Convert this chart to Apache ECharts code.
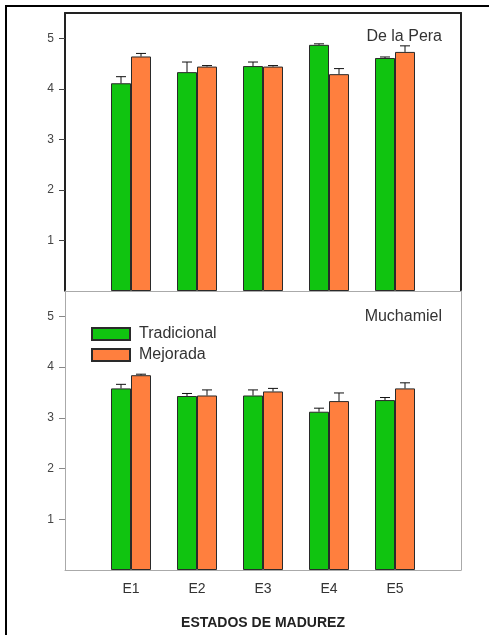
<!DOCTYPE html>
<html>
<head>
<meta charset="utf-8">
<script src="https://cdn.jsdelivr.net/npm/echarts@6/dist/echarts.min.js"></script>
<style>
  html, body { margin: 0; padding: 0; background: #fff; }
  #chart { width: 489px; height: 635px; }
  .frame { position: absolute; left: 5px; top: 5px; right: -10px; bottom: -10px;
    border-left: 2px solid #000; border-top: 2px solid #000; pointer-events: none; }
</style>
</head>
<body>
<div id="chart"></div>
<div class="frame"></div>
<script>
const categories = ['E1', 'E2', 'E3', 'E4', 'E5']
const yTicks = [1, 2, 3, 4, 5]

// De la Pera
const peraTradicional = [4.11, 4.33, 4.45, 4.87, 4.61]
const peraTradicionalErr = [0.13, 0.2, 0.08, 0.02, 0.02]
const peraMejorada = [4.64, 4.44, 4.44, 4.29, 4.73]
const peraMejoradaErr = [0.06, 0.02, 0.02, 0.11, 0.12]

// Muchamiel
const muchTradicional = [3.58, 3.43, 3.44, 3.12, 3.35]
const muchTradicionalErr = [0.08, 0.05, 0.11, 0.07, 0.05]
const muchMejorada = [3.84, 3.44, 3.52, 3.33, 3.58]
const muchMejoradaErr = [0.02, 0.11, 0.06, 0.16, 0.11]

const GREEN = '#10c410'
const ORANGE = '#ff7f3e'
const catX = categories.map((c, i) => i + 1)

const barSeries = (name, values, color, gridIdx) => ({
  name,
  type: 'bar',
  xAxisIndex: gridIdx === 0 ? 0 : 2,
  yAxisIndex: gridIdx === 0 ? 0 : 2,
  barWidth: 20,
  barGap: '0%',
  data: values.map((v, i) => [catX[i], v]),
  itemStyle: { color, borderColor: '#2a2a2a', borderWidth: 1 },
  z: 2,
})

const errSeries = (values, errs, dx, gridIdx) => ({
  type: 'custom',
  xAxisIndex: gridIdx === 0 ? 0 : 2,
  yAxisIndex: gridIdx === 0 ? 0 : 2,
  data: values.map((v, i) => [catX[i], v, errs[i]]),
  renderItem(params, api) {
    const p = api.coord([api.value(0), api.value(1)])
    const q = api.coord([api.value(0), api.value(1) + api.value(2)])
    const x = p[0] + dx
    const style = { stroke: '#111', lineWidth: 1 }
    return {
      type: 'group',
      children: [
        { type: 'line', shape: { x1: x, y1: p[1], x2: x, y2: q[1] }, style },
        { type: 'line', shape: { x1: x - 5, y1: q[1], x2: x + 5, y2: q[1] }, style },
      ],
    }
  },
  z: 3,
  silent: true,
})

const labelFont = { fontFamily: 'Liberation Sans', color: '#333' }
const line = (color, width, show = true) => ({ show, onZero: false, lineStyle: { color, width } })

const xAxisBase = (gridIndex) => ({
  type: 'value',
  gridIndex,
  min: 0,
  max: 6,
  splitLine: { show: false },
  axisTick: { show: false },
})

const yAxisBase = (gridIndex) => ({
  type: 'value',
  gridIndex,
  min: 0,
  max: 5.5,
  splitLine: { show: false },
})

const chart = echarts.init(document.getElementById('chart'))
chart.setOption({
  animation: false,
  backgroundColor: 'transparent',
  title: [
    { text: 'De la Pera', right: 42, top: 24, textStyle: { ...labelFont, fontSize: 16, fontWeight: 'normal' } },
    { text: 'Muchamiel', right: 42, top: 304, textStyle: { ...labelFont, fontSize: 16, fontWeight: 'normal' } },
  ],
  legend: {
    data: ['Tradicional', 'Mejorada'],
    orient: 'vertical',
    left: 91,
    top: 326,
    padding: 0,
    itemWidth: 38,
    itemHeight: 12,
    itemGap: 5,
    icon: 'rect',
    textStyle: { ...labelFont, fontSize: 16, padding: [0, 0, 0, 4] },
  },
  grid: [
    { left: 65, top: 13, width: 396, height: 278 },
    { left: 65, top: 291, width: 396, height: 279 },
  ],
  xAxis: [
    { ...xAxisBase(0), axisLine: line('#aaa', 1), axisLabel: { show: false } },
    { ...xAxisBase(0), position: 'top', axisLine: line('#222', 2), axisLabel: { show: false } },
    {
      ...xAxisBase(1),
      axisLine: line('#aaa', 1),
      axisLabel: {
        ...labelFont,
        fontSize: 14,
        margin: 12,
        customValues: catX,
        formatter: (v) => categories[v - 1] || '',
      },
      name: 'ESTADOS DE MADUREZ',
      nameLocation: 'middle',
      nameGap: 46,
      nameTextStyle: { ...labelFont, fontSize: 14, fontWeight: 'bold', color: '#222' },
    },
    { ...xAxisBase(1), position: 'top', axisLine: line('#aaa', 1), axisLabel: { show: false } },
  ],
  yAxis: [
    {
      ...yAxisBase(0),
      axisLine: line('#222', 2),
      axisTick: { show: true, length: 6, inside: false, customValues: yTicks, lineStyle: { color: '#444' } },
      axisLabel: { ...labelFont, color: '#444', fontSize: 12, margin: 11, customValues: yTicks },
    },
    {
      ...yAxisBase(0),
      position: 'right',
      axisLine: line('#222', 2),
      axisTick: { show: false },
      axisLabel: { show: false },
    },
    {
      ...yAxisBase(1),
      axisLine: line('#aaa', 1),
      axisTick: { show: true, length: 6, inside: false, customValues: yTicks, lineStyle: { color: '#888' } },
      axisLabel: { ...labelFont, color: '#444', fontSize: 12, margin: 11, customValues: yTicks },
    },
    {
      ...yAxisBase(1),
      position: 'right',
      axisLine: line('#aaa', 1),
      axisTick: { show: false },
      axisLabel: { show: false },
    },
  ],
  series: [
    barSeries('Tradicional', peraTradicional, GREEN, 0),
    barSeries('Mejorada', peraMejorada, ORANGE, 0),
    errSeries(peraTradicional, peraTradicionalErr, -10, 0),
    errSeries(peraMejorada, peraMejoradaErr, 10, 0),
    barSeries('Tradicional', muchTradicional, GREEN, 1),
    barSeries('Mejorada', muchMejorada, ORANGE, 1),
    errSeries(muchTradicional, muchTradicionalErr, -10, 1),
    errSeries(muchMejorada, muchMejoradaErr, 10, 1),
  ],
})
</script>
</body>
</html>
